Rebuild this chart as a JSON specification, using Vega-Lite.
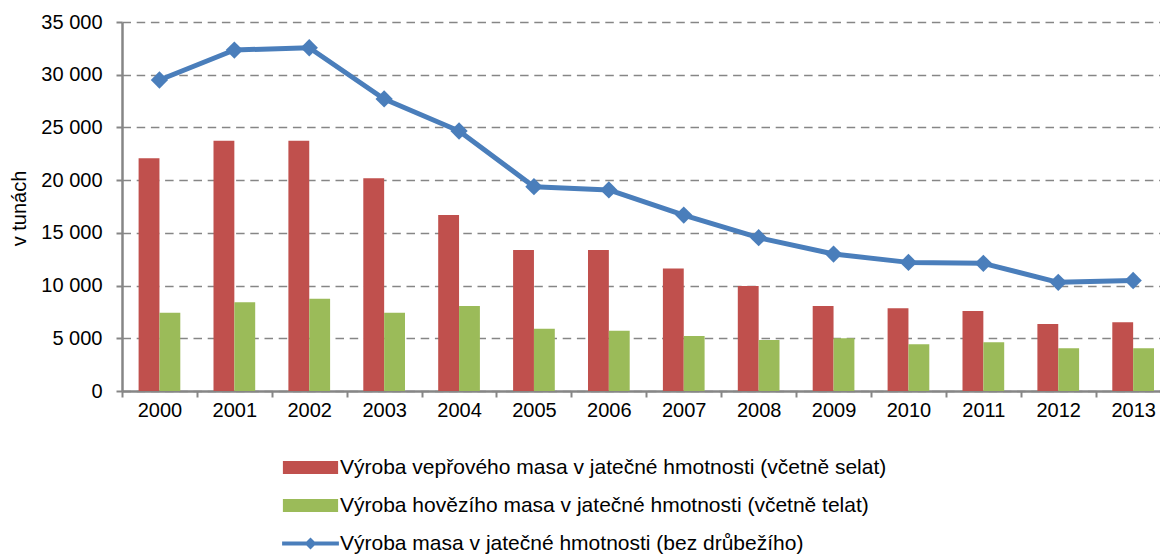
{
  "$schema": "https://vega.github.io/schema/vega-lite/v6.json",
  "width": 1038,
  "height": 369,
  "autosize": {"type": "none"},
  "padding": {"left": 122, "top": 22, "right": 0, "bottom": 164},
  "background": "white",
  "config": {
    "font": "Liberation Sans",
    "view": {"stroke": null},
    "axis": {"labelFont": "Liberation Sans", "titleFont": "Liberation Sans", "labelColor": "#000000", "titleColor": "#000000"}
  },
  "data": {
    "values": [
      {"rok": "2000", "serie": "Výroba vepřového masa v jatečné hmotnosti (včetně selat)", "hodnota": 22070},
      {"rok": "2001", "serie": "Výroba vepřového masa v jatečné hmotnosti (včetně selat)", "hodnota": 23740},
      {"rok": "2002", "serie": "Výroba vepřového masa v jatečné hmotnosti (včetně selat)", "hodnota": 23740},
      {"rok": "2003", "serie": "Výroba vepřového masa v jatečné hmotnosti (včetně selat)", "hodnota": 20170},
      {"rok": "2004", "serie": "Výroba vepřového masa v jatečné hmotnosti (včetně selat)", "hodnota": 16690},
      {"rok": "2005", "serie": "Výroba vepřového masa v jatečné hmotnosti (včetně selat)", "hodnota": 13370},
      {"rok": "2006", "serie": "Výroba vepřového masa v jatečné hmotnosti (včetně selat)", "hodnota": 13370},
      {"rok": "2007", "serie": "Výroba vepřového masa v jatečné hmotnosti (včetně selat)", "hodnota": 11630},
      {"rok": "2008", "serie": "Výroba vepřového masa v jatečné hmotnosti (včetně selat)", "hodnota": 9960},
      {"rok": "2009", "serie": "Výroba vepřového masa v jatečné hmotnosti (včetně selat)", "hodnota": 8060},
      {"rok": "2010", "serie": "Výroba vepřového masa v jatečné hmotnosti (včetně selat)", "hodnota": 7840},
      {"rok": "2011", "serie": "Výroba vepřového masa v jatečné hmotnosti (včetně selat)", "hodnota": 7590},
      {"rok": "2012", "serie": "Výroba vepřového masa v jatečné hmotnosti (včetně selat)", "hodnota": 6350},
      {"rok": "2013", "serie": "Výroba vepřového masa v jatečné hmotnosti (včetně selat)", "hodnota": 6510},
      {"rok": "2000", "serie": "Výroba hovězího masa v jatečné hmotnosti (včetně telat)", "hodnota": 7430},
      {"rok": "2001", "serie": "Výroba hovězího masa v jatečné hmotnosti (včetně telat)", "hodnota": 8410},
      {"rok": "2002", "serie": "Výroba hovězího masa v jatečné hmotnosti (včetně telat)", "hodnota": 8760},
      {"rok": "2003", "serie": "Výroba hovězího masa v jatečné hmotnosti (včetně telat)", "hodnota": 7430},
      {"rok": "2004", "serie": "Výroba hovězího masa v jatečné hmotnosti (včetně telat)", "hodnota": 8060},
      {"rok": "2005", "serie": "Výroba hovězího masa v jatečné hmotnosti (včetně telat)", "hodnota": 5910},
      {"rok": "2006", "serie": "Výroba hovězího masa v jatečné hmotnosti (včetně telat)", "hodnota": 5720},
      {"rok": "2007", "serie": "Výroba hovězího masa v jatečné hmotnosti (včetně telat)", "hodnota": 5220},
      {"rok": "2008", "serie": "Výroba hovězího masa v jatečné hmotnosti (včetně telat)", "hodnota": 4840},
      {"rok": "2009", "serie": "Výroba hovězího masa v jatečné hmotnosti (včetně telat)", "hodnota": 5000},
      {"rok": "2010", "serie": "Výroba hovězího masa v jatečné hmotnosti (včetně telat)", "hodnota": 4430},
      {"rok": "2011", "serie": "Výroba hovězího masa v jatečné hmotnosti (včetně telat)", "hodnota": 4620},
      {"rok": "2012", "serie": "Výroba hovězího masa v jatečné hmotnosti (včetně telat)", "hodnota": 4050},
      {"rok": "2013", "serie": "Výroba hovězího masa v jatečné hmotnosti (včetně telat)", "hodnota": 4050},
      {"rok": "2000", "serie": "Výroba masa v jatečné hmotnosti (bez drůbežího)", "hodnota": 29500},
      {"rok": "2001", "serie": "Výroba masa v jatečné hmotnosti (bez drůbežího)", "hodnota": 32340},
      {"rok": "2002", "serie": "Výroba masa v jatečné hmotnosti (bez drůbežího)", "hodnota": 32560},
      {"rok": "2003", "serie": "Výroba masa v jatečné hmotnosti (bez drůbežího)", "hodnota": 27700},
      {"rok": "2004", "serie": "Výroba masa v jatečné hmotnosti (bez drůbežího)", "hodnota": 24660},
      {"rok": "2005", "serie": "Výroba masa v jatečné hmotnosti (bez drůbežího)", "hodnota": 19380},
      {"rok": "2006", "serie": "Výroba masa v jatečné hmotnosti (bez drůbežího)", "hodnota": 19070},
      {"rok": "2007", "serie": "Výroba masa v jatečné hmotnosti (bez drůbežího)", "hodnota": 16690},
      {"rok": "2008", "serie": "Výroba masa v jatečné hmotnosti (bez drůbežího)", "hodnota": 14540},
      {"rok": "2009", "serie": "Výroba masa v jatečné hmotnosti (bez drůbežího)", "hodnota": 12990},
      {"rok": "2010", "serie": "Výroba masa v jatečné hmotnosti (bez drůbežího)", "hodnota": 12200},
      {"rok": "2011", "serie": "Výroba masa v jatečné hmotnosti (bez drůbežího)", "hodnota": 12110},
      {"rok": "2012", "serie": "Výroba masa v jatečné hmotnosti (bez drůbežího)", "hodnota": 10310},
      {"rok": "2013", "serie": "Výroba masa v jatečné hmotnosti (bez drůbežího)", "hodnota": 10480}
    ]
  },
  "encoding": {
    "x": {
      "field": "rok", "type": "ordinal",
      "scale": {"type": "band", "paddingInner": 0, "paddingOuter": 0, "range": [0, 1048.6]},
      "axis": {
        "title": null, "labelAngle": 0, "labelFontSize": 20, "labelPadding": 3,
        "tickBand": "extent", "tickSize": 6, "tickColor": "#868686", "tickWidth": 2,
        "domainColor": "#868686", "domainWidth": 2.5, "grid": false
      }
    },
    "y": {
      "field": "hodnota", "type": "quantitative",
      "scale": {"domain": [0, 35000], "nice": false},
      "axis": {
        "title": "v tunách", "titleFontSize": 20, "titleFontWeight": "normal",
        "titleBaseline": "alphabetic", "titleX": -97, "titleY": 186, "titleAngle": -90,
        "values": [0, 5000, 10000, 15000, 20000, 25000, 30000, 35000],
        "labelExpr": "replace(format(datum.value, ','), ',', ' ')",
        "labelFontSize": 20, "labelPadding": 14,
        "tickSize": 6, "tickColor": "#868686", "tickWidth": 2,
        "domainColor": "#868686", "domainWidth": 2.5,
        "grid": true, "gridColor": "#868686", "gridWidth": 1.5, "gridDash": [8.5, 5.7]
      }
    },
    "color": {
      "field": "serie", "type": "nominal",
      "scale": {
        "domain": [
          "Výroba vepřového masa v jatečné hmotnosti (včetně selat)",
          "Výroba hovězího masa v jatečné hmotnosti (včetně telat)",
          "Výroba masa v jatečné hmotnosti (bez drůbežího)"
        ],
        "range": ["#C0504D", "#9BBB59", "#4A7EBB"]
      },
      "legend": {
        "title": null, "orient": "none", "legendX": 168.5, "legendY": 425.5,
        "direction": "vertical", "padding": 0, "rowPadding": 8,
        "symbolSize": 1600, "symbolStrokeWidth": 0, "symbolOpacity": 1,
        "labelFont": "Liberation Sans", "labelFontSize": 21, "labelColor": "#000000",
        "labelLimit": 0, "labelOffset": 9.5, "labelBaseline": "middle",
        "encode": {
          "symbols": {
            "update": {
              "shape": {"signal": "datum.value == 'Výroba masa v jatečné hmotnosti (bez drůbežího)' ? 'M-1.42,-0.1H-0.2L0,-0.3L0.2,-0.1H1.42V0.1H0.2L0,0.3L-0.2,0.1H-1.42Z' : 'M-1.38,-0.325H1.38V0.325H-1.38Z'"},
              "fill": {"scale": "color", "field": "value"},
              "fillOpacity": {"value": 1},
              "strokeWidth": {"value": 0},
              "opacity": {"value": 1}
            }
          }
        }
      }
    }
  },
  "layer": [
    {
      "transform": [{"filter": "datum.serie != 'Výroba masa v jatečné hmotnosti (bez drůbežího)'"}],
      "mark": {"type": "bar", "opacity": 1},
      "encoding": {
        "xOffset": {
          "field": "serie", "type": "nominal",
          "scale": {
            "domain": [
              "Výroba vepřového masa v jatečné hmotnosti (včetně selat)",
              "Výroba hovězího masa v jatečné hmotnosti (včetně telat)"
            ],
            "paddingInner": 0, "paddingOuter": 0.796
          }
        }
      }
    },
    {
      "transform": [{"filter": "datum.serie == 'Výroba masa v jatečné hmotnosti (bez drůbežího)'"}],
      "mark": {"type": "line", "strokeWidth": 5, "strokeJoin": "round"},
      "encoding": {}
    },
    {
      "transform": [{"filter": "datum.serie == 'Výroba masa v jatečné hmotnosti (bez drůbežího)'"}],
      "mark": {"type": "point", "shape": "diamond", "filled": true, "size": 300, "opacity": 1},
      "encoding": {}
    }
  ]
}
